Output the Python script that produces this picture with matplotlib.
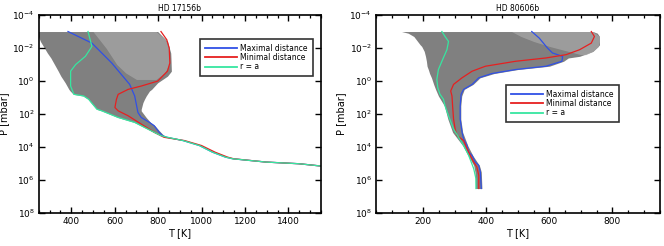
import numpy as np
import matplotlib
matplotlib.use("Agg")
import matplotlib.pyplot as plt
from matplotlib.ticker import FixedLocator, MultipleLocator, LogFormatterMathtext, NullLocator

# ---------------- HD 17156b (log10 P [mbar], T [K]) ----------------
hd17_blue_logp = [-3.0, -2.3, -1.1, 0.2, 0.9, 1.9, 2.2, 2.5, 2.7, 3.1, 3.3, 3.4, 3.6, 3.9, 4.3, 4.6, 4.7, 4.9, 5.0, 5.14]
hd17_blue_t = [385, 495, 586, 669, 692, 707, 722, 760, 782, 805, 820, 840, 915, 990, 1050, 1110, 1143, 1297, 1448, 1550]

hd17_red_logp = [-3.0, -2.5, -2.0, -1.1, -0.6, 0.0, 0.3, 0.5, 0.8, 1.1, 1.6, 1.8, 2.1, 2.6, 3.1, 3.4, 3.6, 3.9, 4.3, 4.6, 4.7, 4.9, 5.0, 5.14]
hd17_red_t = [813, 840, 851, 854, 843, 798, 722, 662, 616, 608, 601, 616, 662, 722, 782, 827, 922, 1000, 1062, 1120, 1148, 1297, 1448, 1550]

hd17_green_logp = [-3.0, -2.7, -2.1, -1.5, -1.0, -0.6, -0.1, 0.3, 0.8, 0.9, 1.1, 1.7, 1.8, 2.2, 2.5, 2.7, 3.0, 3.3, 3.4, 3.6, 3.9, 4.3, 4.6, 4.7, 4.9, 5.0, 5.14]
hd17_green_t = [477, 483, 495, 465, 420, 397, 397, 397, 412, 457, 480, 518, 541, 616, 692, 722, 767, 813, 843, 915, 990, 1050, 1110, 1143, 1297, 1448, 1550]

hd17_env_logp = [-3.0, -2.4, -1.7, -1.4, -0.6, -0.3, 0.1, 0.5, 0.6, 0.8, 0.9, 1.1, 1.3, 1.7, 1.8, 2.2, 2.5, 2.7, 3.0, 3.3, 3.4]
hd17_env_left = [240, 258, 290, 306, 340, 352, 372, 389, 395, 410, 455, 478, 490, 516, 539, 614, 690, 720, 765, 811, 843]
hd17_env_right = [798, 843, 858, 859, 861, 843, 798, 770, 760, 750, 745, 737, 730, 722, 722, 745, 765, 785, 805, 827, 843]

hd17_light_logp = [-3.0, -2.5, -2.0, -1.5, -1.0, -0.5, -0.1]
hd17_light_left = [500, 530, 560, 585, 610, 650, 700]
hd17_light_right = [790, 835, 848, 852, 850, 830, 790]

# ---------------- HD 80606b ----------------
hd80_blue_logp = [-3.0, -2.6, -2.0, -1.7, -1.5, -1.2, -0.9, -0.7, -0.46, -0.2, 0.2, 0.5, 0.8, 1.5, 2.3, 3.1, 3.5, 3.9, 4.3, 4.5, 4.9, 5.1, 5.5, 6.5]
hd80_blue_t = [544, 568, 594, 610, 642, 640, 589, 493, 418, 376, 355, 328, 320, 317, 317, 323, 328, 339, 344, 355, 365, 376, 381, 384]

hd80_red_logp = [-3.0, -2.7, -2.3, -1.9, -1.6, -1.4, -1.2, -0.9, -0.6, -0.2, 0.2, 0.6, 0.9, 1.5, 2.3, 2.9, 3.3, 3.6, 4.1, 4.5, 4.9, 5.2, 5.7, 6.5]
hd80_red_t = [733, 743, 733, 696, 653, 589, 493, 397, 355, 323, 296, 287, 291, 293, 296, 301, 307, 328, 339, 349, 360, 370, 376, 376]

hd80_green_logp = [-3.0, -2.7, -2.4, -1.9, -1.2, -0.7, -0.1, 0.4, 0.8, 1.1, 1.5, 2.1, 2.9, 3.4, 3.9, 4.5, 5.3, 5.9, 6.5]
hd80_green_t = [259, 269, 280, 275, 259, 248, 243, 246, 253, 264, 269, 280, 296, 312, 328, 344, 360, 367, 367]

hd80_env_logp = [-3.0, -2.9, -2.7, -2.2, -2.1, -1.8, -1.5, -1.4, -1.2, -0.9, -0.7, -0.46, -0.2, 0.2, 0.5, 0.9, 1.5, 2.3, 3.1, 3.9, 4.5, 5.1, 5.5, 6.5]
hd80_env_left = [131, 152, 170, 190, 195, 203, 207, 208, 210, 212, 216, 220, 226, 233, 239, 248, 267, 278, 293, 325, 342, 360, 364, 366]
hd80_env_right = [738, 752, 759, 759, 755, 738, 696, 660, 645, 600, 500, 425, 380, 358, 330, 322, 319, 319, 325, 341, 357, 378, 384, 386]

hd80_light_logp = [-3.0, -2.7, -2.4, -2.1, -1.8, -1.6]
hd80_light_left = [480, 510, 550, 600, 660, 700]
hd80_light_right = [738, 759, 759, 755, 738, 715]

C_BLUE = '#3050e6'
C_RED = '#e62020'
C_GREEN = '#36e6a0'
C_GRAY = '#808080'

plt.rcParams['font.family'] = ['DejaVu Sans']
plt.rcParams['axes.linewidth'] = 1.2

fig = plt.figure(figsize=(6.64, 2.46), dpi=100)
ax1 = fig.add_axes([38.7 / 664, 1 - 213.3 / 246, (321 - 38.7) / 664, (213.3 - 15) / 246])
ax2 = fig.add_axes([376 / 664, 1 - 213.3 / 246, (659.7 - 376) / 664, (213.3 - 15) / 246])


def draw_panel(ax, title, xlim, major, env, light, blue, red, green, leg_loc):
    ep, el, er = env
    ax.fill_betweenx(np.power(10.0, ep), el, er, color=C_GRAY, lw=0)
    lp, ll, lr = light
    ax.fill_betweenx(np.power(10.0, lp), ll, lr, color='#a4a4a4', lw=0, alpha=0.8)
    ax.plot(blue[1], np.power(10.0, blue[0]), color=C_BLUE, lw=0.9, label='Maximal distance')
    ax.plot(red[1], np.power(10.0, red[0]), color=C_RED, lw=0.9, label='Minimal distance')
    ax.plot(green[1], np.power(10.0, green[0]), color=C_GREEN, lw=0.9, label='r = a')

    ax.set_yscale('log')
    ax.set_ylim(1e8, 1e-4)
    ax.set_xlim(*xlim)
    ax.yaxis.set_major_locator(FixedLocator([1e-4, 1e-2, 1e0, 1e2, 1e4, 1e6, 1e8]))
    ax.yaxis.set_major_formatter(LogFormatterMathtext())
    ax.yaxis.set_minor_locator(NullLocator())
    ax.xaxis.set_major_locator(MultipleLocator(major))
    ax.xaxis.set_minor_locator(MultipleLocator(50))
    ax.tick_params(which='both', direction='in', top=True, right=True, labelsize=6.5, color='black')
    ax.tick_params(which='major', length=4, width=1.0, pad=3)
    ax.tick_params(which='minor', length=2, width=0.9)
    ax.set_xlabel('T [K]', fontsize=7, labelpad=1)
    ax.set_ylabel('P [mbar]', fontsize=7)
    ax.yaxis.set_label_coords(-0.105, 0.5)
    ax.set_title(title, fontsize=5.5, pad=3)
    leg = ax.legend(loc='upper left', bbox_to_anchor=leg_loc, fontsize=5.5, frameon=True,
                    fancybox=False, edgecolor='black', handlelength=4.2, borderpad=0.6,
                    labelspacing=0.05, handletextpad=0.5, borderaxespad=0)
    leg.get_frame().set_linewidth(1.2)
    for line in leg.get_lines():
        line.set_linewidth(1.3)


draw_panel(ax1, 'HD 17156b', (250, 1550), 200,
           (hd17_env_logp, hd17_env_left, hd17_env_right),
           (hd17_light_logp, hd17_light_left, hd17_light_right),
           (hd17_blue_logp, hd17_blue_t), (hd17_red_logp, hd17_red_t), (hd17_green_logp, hd17_green_t),
           ((200 - 38.7) / 282.3, (213.3 - 39) / 198.3))
draw_panel(ax2, 'HD 80606b', (50, 950), 200,
           (hd80_env_logp, hd80_env_left, hd80_env_right),
           (hd80_light_logp, hd80_light_left, hd80_light_right),
           (hd80_blue_logp, hd80_blue_t), (hd80_red_logp, hd80_red_t), (hd80_green_logp, hd80_green_t),
           ((506 - 376) / 283.7, (213.3 - 85) / 198.3))

fig.savefig('out.png', dpi=100)
